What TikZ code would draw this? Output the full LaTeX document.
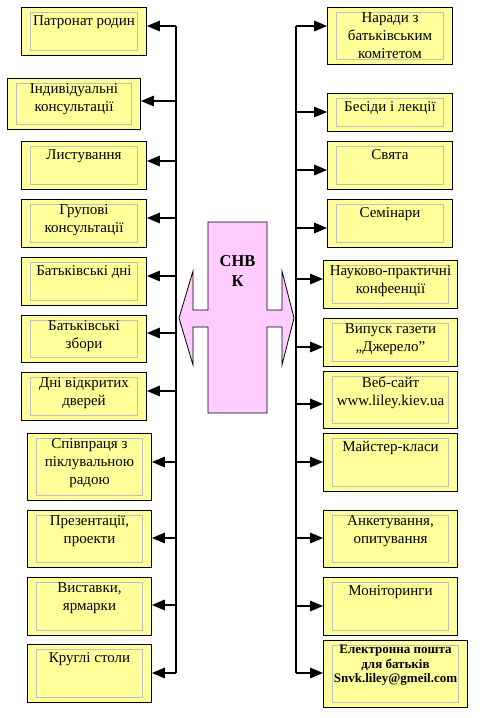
\documentclass[tikz,border=0pt]{standalone}
\usepackage{fontspec}
\setmainfont{Liberation Serif}
\usetikzlibrary{arrows}
\definecolor{boxyellow}{HTML}{FFFF99}
\definecolor{snvkpink}{HTML}{FFCCFF}
\definecolor{innergrey}{HTML}{BFBFBF}
\tikzset{
  item/.style={draw, line width=1pt, fill=boxyellow, anchor=north west, inner sep=0pt,
    path picture={\draw[innergrey, line width=0.9pt]
      ([shift={(9pt,-5pt)}]path picture bounding box.north west) rectangle
      ([shift={(-9pt,5pt)}]path picture bounding box.south east);}},
  itemtext/.style={anchor=north, align=center, inner xsep=1pt, inner ysep=5.5pt,
    execute at begin node=\strut, font=\fontsize{15}{17.8}\selectfont},
  link/.style={line width=2pt, -triangle 45},
  spine/.style={line width=2pt}
}
\begin{document}
\begin{tikzpicture}[x=1pt, y=-1pt]
\useasboundingbox (0,0) rectangle (488,718);
% left column
\node[item, minimum width=125pt, minimum height=48pt, label={[itemtext]north:Патронат родин}] (Patronage) at (21,7) {};
\node[item, minimum width=133pt, minimum height=51pt, label={[itemtext]north:Індивідуальні\\консультації}] (Individual) at (7,78) {};
\node[item, minimum width=125pt, minimum height=48pt, label={[itemtext]north:Листування}] (Letters) at (21,141) {};
\node[item, minimum width=125pt, minimum height=48pt, label={[itemtext]north:Групові\\консультації}] (Group) at (21,199) {};
\node[item, minimum width=125pt, minimum height=48pt, label={[itemtext]north:Батьківські дні}] (ParentDays) at (21,257) {};
\node[item, minimum width=125pt, minimum height=47pt, label={[itemtext]north:Батьківські\\збори}] (Meetings) at (21,315) {};
\node[item, minimum width=125pt, minimum height=48pt, label={[itemtext]north:Дні відкритих\\дверей}] (OpenDoors) at (21,372) {};
\node[item, minimum width=124pt, minimum height=67pt, label={[itemtext]north:Співпраця з\\піклувальною\\радою}] (Board) at (27,433) {};
\node[item, minimum width=124pt, minimum height=57pt, label={[itemtext]north:Презентації,\\проекти}] (Presentations) at (27,510) {};
\node[item, minimum width=124pt, minimum height=58pt, label={[itemtext]north:Виставки,\\ярмарки}] (Fairs) at (27,577) {};
\node[item, minimum width=124pt, minimum height=58pt, label={[itemtext]north:Круглі столи}] (RoundTables) at (27,644) {};
% right column
\node[item, minimum width=125pt, minimum height=57pt, label={[itemtext]north:Наради з\\батьківським\\комітетом}] (Committee) at (327,7) {};
\node[item, minimum width=125pt, minimum height=38pt, label={[itemtext]north:Бесіди і лекції}] (Lectures) at (327,93) {};
\node[item, minimum width=125pt, minimum height=48pt, label={[itemtext]north:Свята}] (Holidays) at (327,141) {};
\node[item, minimum width=125pt, minimum height=48pt, label={[itemtext]north:Семінари}] (Seminars) at (327,199) {};
\node[item, minimum width=134pt, minimum height=48pt, label={[itemtext]north:Науково-практичні\\конфеенції}] (Conferences) at (323,260) {};
\node[item, minimum width=134pt, minimum height=48pt, label={[itemtext]north:Випуск газети\\„Джерело”}] (Newspaper) at (323,318) {};
\node[item, minimum width=134pt, minimum height=57pt, label={[itemtext]north:Веб-сайт\\www.liley.kiev.ua}] (Website) at (323,371) {};
\node[item, minimum width=134pt, minimum height=58pt, label={[itemtext]north:Майстер-класи}] (Workshops) at (323,433) {};
\node[item, minimum width=134pt, minimum height=57pt, label={[itemtext]north:Анкетування,\\опитування}] (Surveys) at (323,510) {};
\node[item, minimum width=134pt, minimum height=58pt, label={[itemtext]north:Моніторинги}] (Monitoring) at (323,577) {};
\node[item, minimum width=144pt, minimum height=67pt, label={[itemtext, inner ysep=4.8pt, font=\bfseries\fontsize{13}{14.5}\selectfont]north:Електронна пошта\\для батьків\\Snvk.liley@gmeil.com}] (Email) at (323,640) {};
% centre
\draw[fill=snvkpink, line width=0.8pt] (208,222) -- (267,222) -- (267,310) -- (282,310) -- (282,271) -- (294,318)
  -- (282,365) -- (282,327) -- (267,327) -- (267,413) -- (208,413) -- (208,327) -- (193,327) -- (193,365)
  -- (179,318) -- (193,271) -- (193,310) -- (208,310) -- cycle;
\node[align=center, font=\bfseries\fontsize{16.5}{20}\selectfont] (SNVK) at (237.5,271) {СНВ\\К};
% spines
\coordinate (l1) at (176,26);   \coordinate (r1) at (296,26);
\coordinate (l2) at (176,101);  \coordinate (r2) at (296,112);
\coordinate (l3) at (176,161);  \coordinate (r3) at (296,170);
\coordinate (l4) at (176,218);  \coordinate (r4) at (296,228);
\coordinate (l5) at (176,276);  \coordinate (r5) at (296,279);
\coordinate (l6) at (176,333);  \coordinate (r6) at (296,347);
\coordinate (l7) at (176,391);  \coordinate (r7) at (296,404);
\coordinate (l8) at (176,462);  \coordinate (r8) at (296,462);
\coordinate (l9) at (176,538);  \coordinate (r9) at (296,538);
\coordinate (l10) at (176,605); \coordinate (r10) at (296,606);
\coordinate (l11) at (176,673); \coordinate (r11) at (296,673);
\draw[spine] (l1) -- (l11);
\draw[spine] (r1) -- (r11);
\draw[link] (l1) -- (l1 -| Patronage.east);
\draw[link] (l2) -- (l2 -| Individual.east);
\draw[link] (l3) -- (l3 -| Letters.east);
\draw[link] (l4) -- (l4 -| Group.east);
\draw[link] (l5) -- (l5 -| ParentDays.east);
\draw[link] (l6) -- (l6 -| Meetings.east);
\draw[link] (l7) -- (l7 -| OpenDoors.east);
\draw[link] (l8) -- (l8 -| Board.east);
\draw[link] (l9) -- (l9 -| Presentations.east);
\draw[link] (l10) -- (l10 -| Fairs.east);
\draw[link] (l11) -- (l11 -| RoundTables.east);
\draw[link] (r1) -- (r1 -| Committee.west);
\draw[link] (r2) -- (r2 -| Lectures.west);
\draw[link] (r3) -- (r3 -| Holidays.west);
\draw[link] (r4) -- (r4 -| Seminars.west);
\draw[link] (r5) -- (r5 -| Conferences.west);
\draw[link] (r6) -- (r6 -| Newspaper.west);
\draw[link] (r7) -- (r7 -| Website.west);
\draw[link] (r8) -- (r8 -| Workshops.west);
\draw[link] (r9) -- (r9 -| Surveys.west);
\draw[link] (r10) -- (r10 -| Monitoring.west);
\draw[link] (r11) -- (r11 -| Email.west);
\end{tikzpicture}
\end{document}
